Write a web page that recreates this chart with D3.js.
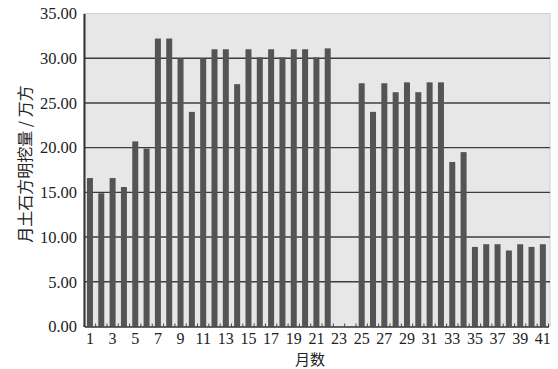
<!DOCTYPE html>
<html>
<head>
<meta charset="utf-8">
<script src="https://cdn.jsdelivr.net/npm/d3@7/dist/d3.min.js"></script>
<style>
  html, body { margin: 0; padding: 0; background: #fff; }
  svg { display: block; }
</style>
</head>
<body>
<svg id="chart" width="558" height="369"></svg>
<script>
// ---- data ----
const months = [1,2,3,4,5,6,7,8,9,10,11,12,13,14,15,16,17,18,19,20,21,22,23,24,25,26,27,28,29,30,31,32,33,34,35,36,37,38,39,40,41];
const volumes = [16.6,14.9,16.6,15.6,20.7,19.9,32.2,32.2,30.0,24.0,30.0,31.0,31.0,27.1,31.0,30.1,31.0,30.1,31.0,31.0,30.1,31.1,null,null,27.2,24.0,27.2,26.2,27.3,26.2,27.3,27.3,18.4,19.5,8.9,9.2,9.2,8.5,9.2,8.9,9.2];
const yTicks = [0,5,10,15,20,25,30,35];
const xTickLabels = [1,3,5,7,9,11,13,15,17,19,21,23,25,27,29,31,33,35,37,39,41];
const yTitle = "月土石方明挖量 / 万方";
const xTitle = "月数";

// ---- layout ----
const svg = d3.select("#chart");
const plotLeft = 84, plotRight = 550, plotTop = 13.5, plotBottom = 326.5;

const x = d3.scaleBand()
  .domain(months)
  .range([84.3, 548.5])
  .paddingInner(0.47)
  .paddingOuter(0.235);

const y = d3.scaleLinear().domain([0, 35]).range([plotBottom, plotTop]);

const serif = "'Liberation Serif', 'Times New Roman', serif";
const cjk = "'Noto Sans CJK SC', 'Noto Sans CJK JP', sans-serif";

// plot background
svg.append("rect")
  .attr("x", plotLeft).attr("y", plotTop)
  .attr("width", plotRight - plotLeft).attr("height", plotBottom - plotTop)
  .attr("fill", "#e7e7e7")
  .attr("stroke", "#d0d0d0").attr("stroke-width", 1);

// gridlines
svg.append("g").selectAll("line")
  .data(yTicks.filter(d => d > 0 && d < 35))
  .join("line")
  .attr("x1", plotLeft).attr("x2", plotRight)
  .attr("y1", d => y(d)).attr("y2", d => y(d))
  .attr("stroke", "#3c3c3c").attr("stroke-width", 1.4);

// bars
svg.append("g").selectAll("rect")
  .data(months.map((m, i) => ({ m, v: volumes[i] })).filter(d => d.v != null))
  .join("rect")
  .attr("x", d => x(d.m))
  .attr("width", x.bandwidth())
  .attr("y", d => y(d.v))
  .attr("height", d => y(0) - y(d.v))
  .attr("fill", "#545454");

// small inner ticks at band boundaries along the bottom
svg.append("g").selectAll("line")
  .data(months.concat([months.length + 1]))
  .join("line")
  .attr("x1", (d, i) => x.range()[0] + i * x.step())
  .attr("x2", (d, i) => x.range()[0] + i * x.step())
  .attr("y1", plotBottom).attr("y2", plotBottom - 3)
  .attr("stroke", "#444").attr("stroke-width", 1);

// y axis
const yAxis = svg.append("g")
  .attr("transform", `translate(${plotLeft},0)`)
  .call(d3.axisLeft(y).tickValues(yTicks).tickFormat(d3.format(".2f")).tickSize(0).tickPadding(7));
yAxis.select(".domain").attr("stroke", "#333").attr("stroke-width", 2);
yAxis.selectAll("text")
  .attr("font-family", serif).attr("font-size", 16.5).attr("fill", "#222");

// x axis
const xAxis = svg.append("g")
  .attr("transform", `translate(0,${plotBottom})`)
  .call(d3.axisBottom(x).tickValues(xTickLabels).tickSize(0).tickPadding(6));
xAxis.select(".domain").attr("stroke", "#333").attr("stroke-width", 1.6);
xAxis.selectAll("text")
  .attr("font-family", serif).attr("font-size", 16).attr("fill", "#222");

// titles
svg.append("text")
  .attr("x", 310).attr("y", 365)
  .attr("text-anchor", "middle")
  .attr("font-family", cjk).attr("font-size", 15).attr("fill", "#222")
  .text(xTitle);

svg.append("text")
  .attr("transform", "translate(24,164) rotate(-90)")
  .attr("text-anchor", "middle")
  .attr("dominant-baseline", "central")
  .attr("font-family", cjk).attr("font-size", 16).attr("fill", "#222")
  .text(yTitle);
</script>
</body>
</html>
